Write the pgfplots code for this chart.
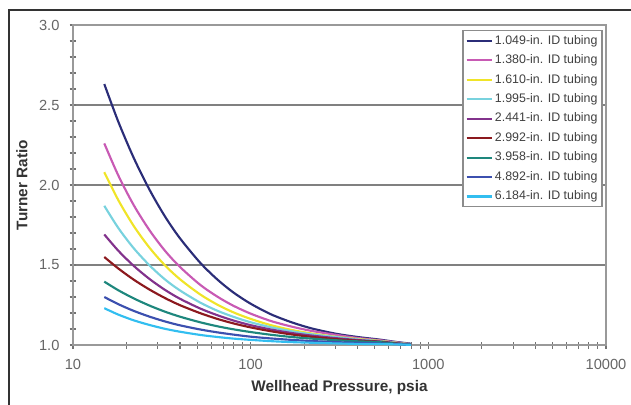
\documentclass[border=0pt]{standalone}
\usepackage{pgfplots}
\pgfplotsset{compat=1.18}
\usepackage{pgfplotstable}
\usepackage{fontspec}
\setmainfont{Liberation Sans}
\definecolor{c1}{RGB}{43,45,120}
\definecolor{c2}{RGB}{200,90,180}
\definecolor{c3}{RGB}{240,228,40}
\definecolor{c4}{RGB}{120,210,222}
\definecolor{c5}{RGB}{130,50,140}
\definecolor{c6}{RGB}{140,25,30}
\definecolor{c7}{RGB}{30,135,125}
\definecolor{c8}{RGB}{60,80,175}
\definecolor{c9}{RGB}{50,190,240}
\pgfplotstableread{
P c1 c2 c3 c4 c5 c6 c7 c8 c9
15 2.631 2.260 2.080 1.870 1.691 1.550 1.396 1.300 1.230
18 2.395 2.059 1.905 1.731 1.589 1.478 1.342 1.255 1.190
22 2.168 1.873 1.743 1.604 1.494 1.408 1.291 1.213 1.154
27 1.969 1.716 1.607 1.497 1.412 1.346 1.246 1.177 1.125
33 1.802 1.588 1.497 1.409 1.344 1.293 1.208 1.147 1.101
40 1.667 1.488 1.411 1.341 1.289 1.249 1.177 1.123 1.083
52 1.514 1.376 1.316 1.265 1.228 1.199 1.142 1.097 1.063
65 1.409 1.302 1.252 1.214 1.186 1.163 1.117 1.079 1.050
80 1.328 1.245 1.204 1.176 1.153 1.135 1.098 1.065 1.040
100 1.258 1.196 1.163 1.142 1.124 1.110 1.081 1.052 1.032
130 1.192 1.150 1.124 1.111 1.097 1.086 1.064 1.041 1.024
170 1.142 1.115 1.094 1.086 1.075 1.066 1.050 1.032 1.018
220 1.104 1.088 1.072 1.067 1.059 1.051 1.040 1.025 1.014
300 1.071 1.064 1.052 1.050 1.043 1.037 1.030 1.018 1.010
400 1.050 1.044 1.038 1.035 1.031 1.027 1.023 1.014 1.007
530 1.034 1.030 1.026 1.024 1.022 1.020 1.018 1.010 1.006
650 1.020 1.018 1.015 1.014 1.012 1.010 1.009 1.006 1.004
800 1.008 1.005 1.004 1.003 1.003 1.002 1.002 1.001 1.001
}\data
\begin{document}
\begin{tikzpicture}[x=1pt,y=1pt]
\useasboundingbox (0,0) rectangle (473.25,303);
\draw[line width=1.1pt, black!80] (6.75,-2) -- (6.75,295.5) -- (475,295.5);
\begin{axis}[
  at={(54.75pt,44.25pt)}, anchor=south west,
  scale only axis, width=399.75pt, height=240pt,
  xmode=log, xmin=10, xmax=10000, ymin=1, ymax=3,
  xtick={10,100,1000,10000}, xticklabels={10,100,1000,10000},
  ytick={1,1.5,2,2.5,3},
  yticklabel={\pgfmathprintnumber[fixed,fixed zerofill,precision=1]{\tick}},
  /pgf/number format/assume math mode=true,
  minor y tick num=4,
  tick align=center, tick pos=left,
  major tick length=5.25pt, minor tick length=5.25pt,
  every tick/.style={black!55, line width=0.8pt},
  axis line style={draw=black!40, line width=1.2pt},
  ymajorgrids, major grid style={black!50, line width=1.4pt},
  tick label style={font=\fontsize{11}{13}\selectfont, text=black!60},
  xticklabel style={anchor=center, yshift=-12pt},
  yticklabel style={anchor=east, xshift=-4pt},
  every axis y label/.style={at={(axis description cs:-0.0957,0.5)}, rotate=90, anchor=center,
     font=\fontsize{11.5}{13}\selectfont\bfseries, text=black!80},
  every axis x label/.style={at={(axis description cs:0.5,-0.134)}, anchor=center,
     font=\fontsize{11.5}{13}\selectfont\bfseries, text=black!80},
  xlabel={Wellhead Pressure, psia}, ylabel={Turner Ratio},
  legend style={at={(rel axis cs:0.994,0.984)}, anchor=north east,
    draw=black!45, line width=1pt, fill=white,
    font=\fontsize{9.3}{11}\selectfont, text=black!75,
    row sep=3.6pt, inner sep=2pt,
    nodes={inner xsep=1.5pt, inner ysep=1pt, text height=7pt, text depth=2pt}},
  legend cell align=left,
  legend image code/.code={\draw[#1] (0pt,0pt) -- (19pt,0pt);},
  every axis plot/.append style={line width=1.6pt, smooth},
]
\addplot[c1] table[x=P,y=c1]{\data}; \addlegendentry{1.049-in. ID tubing}
\addplot[c2] table[x=P,y=c2]{\data}; \addlegendentry{1.380-in. ID tubing}
\addplot[c3] table[x=P,y=c3]{\data}; \addlegendentry{1.610-in. ID tubing}
\addplot[c4] table[x=P,y=c4]{\data}; \addlegendentry{1.995-in. ID tubing}
\addplot[c5] table[x=P,y=c5]{\data}; \addlegendentry{2.441-in. ID tubing}
\addplot[c6] table[x=P,y=c6]{\data}; \addlegendentry{2.992-in. ID tubing}
\addplot[c7] table[x=P,y=c7]{\data}; \addlegendentry{3.958-in. ID tubing}
\addplot[c8] table[x=P,y=c8]{\data}; \addlegendentry{4.892-in. ID tubing}
\addplot[c9] table[x=P,y=c9]{\data}; \addlegendentry{6.184-in. ID tubing}
\end{axis}
\end{tikzpicture}
\end{document}
